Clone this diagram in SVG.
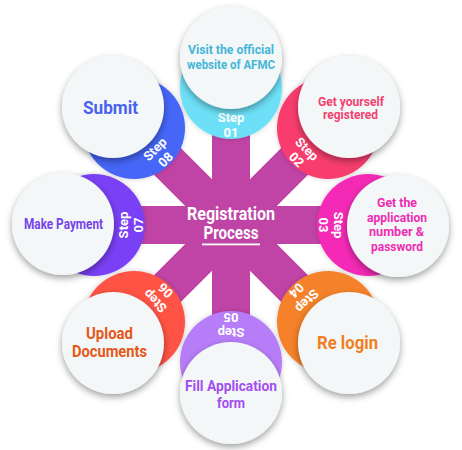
<svg xmlns="http://www.w3.org/2000/svg" width="462" height="450" viewBox="0 0 462 450">
<defs>
<filter id="sh" x="-30%" y="-30%" width="160%" height="160%">
<feDropShadow dx="0" dy="3" stdDeviation="3.5" flood-color="#000" flood-opacity="0.38"/>
</filter>
<filter id="sh2" x="-30%" y="-30%" width="160%" height="160%">
<feDropShadow dx="0" dy="0" stdDeviation="2.5" flood-color="#000" flood-opacity="0.2"/>
</filter>
<style>
.arm{fill:#C044A6}
.white{fill:#F4F7F8;filter:url(#sh)}
.stepc{filter:url(#sh2)}
.num{fill:#FFFFFF;font-family:Roboto,'Liberation Sans',sans-serif;font-weight:700;font-size:13px;text-anchor:middle}
.lbl{font-family:Roboto,'Liberation Sans',sans-serif;font-weight:700;text-anchor:middle}
.ctr{fill:#FFFFFF;font-family:Roboto,'Liberation Sans',sans-serif;font-weight:700;font-size:17.5px;text-anchor:middle}
</style>
</defs>
<rect width="462" height="450" fill="#FFFFFF"/>
<g id="connectors">
<rect class="arm" x="212" y="88" width="38" height="274"/>
<rect class="arm" x="212" y="88" width="38" height="274" transform="rotate(45 231 225)"/>
<rect class="arm" x="212" y="88" width="38" height="274" transform="rotate(90 231 225)"/>
<rect class="arm" x="212" y="88" width="38" height="274" transform="rotate(135 231 225)"/>
</g>
<g id="center">
<text class="ctr" x="231" y="219.5" textLength="88" lengthAdjust="spacingAndGlyphs">Registration</text>
<text class="ctr" x="231" y="239" textLength="55" lengthAdjust="spacingAndGlyphs">Process</text>
<rect x="202" y="243.5" width="58" height="1.8" fill="#FFFFFF"/>
</g>
<g id="step01">
<circle class="stepc" cx="231" cy="88" r="51" fill="#6DE0F7"/>
<g transform="rotate(0 231 225)"><text class="num" x="231" y="122">Step</text><text class="num" x="231" y="137">01</text></g>
<circle class="white" cx="231" cy="58" r="51"/>
<text class="lbl" fill="#45B6D8" font-size="13" x="231" y="54" textLength="86" lengthAdjust="spacingAndGlyphs">Visit the official</text>
<text class="lbl" fill="#45B6D8" font-size="13" x="231" y="68.5" textLength="88" lengthAdjust="spacingAndGlyphs">website of AFMC</text>
</g>
<g id="step02">
<circle class="stepc" cx="328" cy="128" r="51" fill="#F83C6E"/>
<g transform="rotate(45 231 225)"><text class="num" x="231" y="122">Step</text><text class="num" x="231" y="137">02</text></g>
<circle class="white" cx="349" cy="107" r="51"/>
<text class="lbl" fill="#F2416F" font-size="13" x="351" y="105.5" textLength="66" lengthAdjust="spacingAndGlyphs">Get yourself</text>
<text class="lbl" fill="#F2416F" font-size="13" x="350.5" y="119" textLength="55" lengthAdjust="spacingAndGlyphs">registered</text>
</g>
<g id="step03">
<circle class="stepc" cx="368" cy="225" r="51" fill="#F42CB6"/>
<g transform="rotate(90 231 225)"><text class="num" x="231" y="122">Step</text><text class="num" x="231" y="137">03</text></g>
<circle class="white" cx="398" cy="226" r="51"/>
<text class="lbl" fill="#EE2DB2" font-size="13.5" x="397" y="206.7" textLength="40" lengthAdjust="spacingAndGlyphs">Get the</text>
<text class="lbl" fill="#EE2DB2" font-size="13.5" x="397" y="221.5" textLength="60" lengthAdjust="spacingAndGlyphs">application</text>
<text class="lbl" fill="#EE2DB2" font-size="13.5" x="396.5" y="236" textLength="55" lengthAdjust="spacingAndGlyphs">number &amp;</text>
<text class="lbl" fill="#EE2DB2" font-size="13.5" x="397" y="250.5" textLength="52" lengthAdjust="spacingAndGlyphs">password</text>
</g>
<g id="step04">
<circle class="stepc" cx="328" cy="322" r="51" fill="#F5822A"/>
<g transform="rotate(135 231 225)"><text class="num" x="231" y="122">Step</text><text class="num" x="231" y="137">04</text></g>
<circle class="white" cx="349" cy="343" r="51"/>
<text class="lbl" fill="#F0801F" font-size="17.5" x="347.5" y="349" textLength="61" lengthAdjust="spacingAndGlyphs">Re login</text>
</g>
<g id="step05">
<circle class="stepc" cx="231" cy="362" r="51" fill="#B77DF8"/>
<g transform="rotate(180 231 225)"><text class="num" x="231" y="122">Step</text><text class="num" x="231" y="137">05</text></g>
<circle class="white" cx="231" cy="393" r="51"/>
<text class="lbl" fill="#A24EF0" font-size="15" x="231" y="390.5" textLength="92" lengthAdjust="spacingAndGlyphs">Fill Application</text>
<text class="lbl" fill="#A24EF0" font-size="15" x="231" y="408" textLength="28" lengthAdjust="spacingAndGlyphs">form</text>
</g>
<g id="step06">
<circle class="stepc" cx="134" cy="322" r="51" fill="#FF5245"/>
<g transform="rotate(225 231 225)"><text class="num" x="231" y="122">Step</text><text class="num" x="231" y="137">06</text></g>
<circle class="white" cx="113" cy="343" r="51"/>
<text class="lbl" fill="#E5581A" font-size="16" x="109.5" y="339.3" textLength="47" lengthAdjust="spacingAndGlyphs">Upload</text>
<text class="lbl" fill="#E5581A" font-size="16" x="109.5" y="357.3" textLength="75" lengthAdjust="spacingAndGlyphs">Documents</text>
</g>
<g id="step07">
<circle class="stepc" cx="94" cy="225" r="51" fill="#7A3FF5"/>
<g transform="rotate(270 231 225)"><text class="num" x="231" y="122">Step</text><text class="num" x="231" y="137">07</text></g>
<circle class="white" cx="63" cy="224" r="51"/>
<text class="lbl" fill="#7644EA" font-size="14" x="63.5" y="229" textLength="79" lengthAdjust="spacingAndGlyphs">Make Payment</text>
</g>
<g id="step08">
<circle class="stepc" cx="134" cy="128" r="51" fill="#4466F7"/>
<g transform="rotate(315 231 225)"><text class="num" x="231" y="122">Step</text><text class="num" x="231" y="137">08</text></g>
<circle class="white" cx="113" cy="107" r="51"/>
<text class="lbl" fill="#4962F1" font-size="19" x="110.5" y="114" textLength="55" lengthAdjust="spacingAndGlyphs">Submit</text>
</g>
</svg>
